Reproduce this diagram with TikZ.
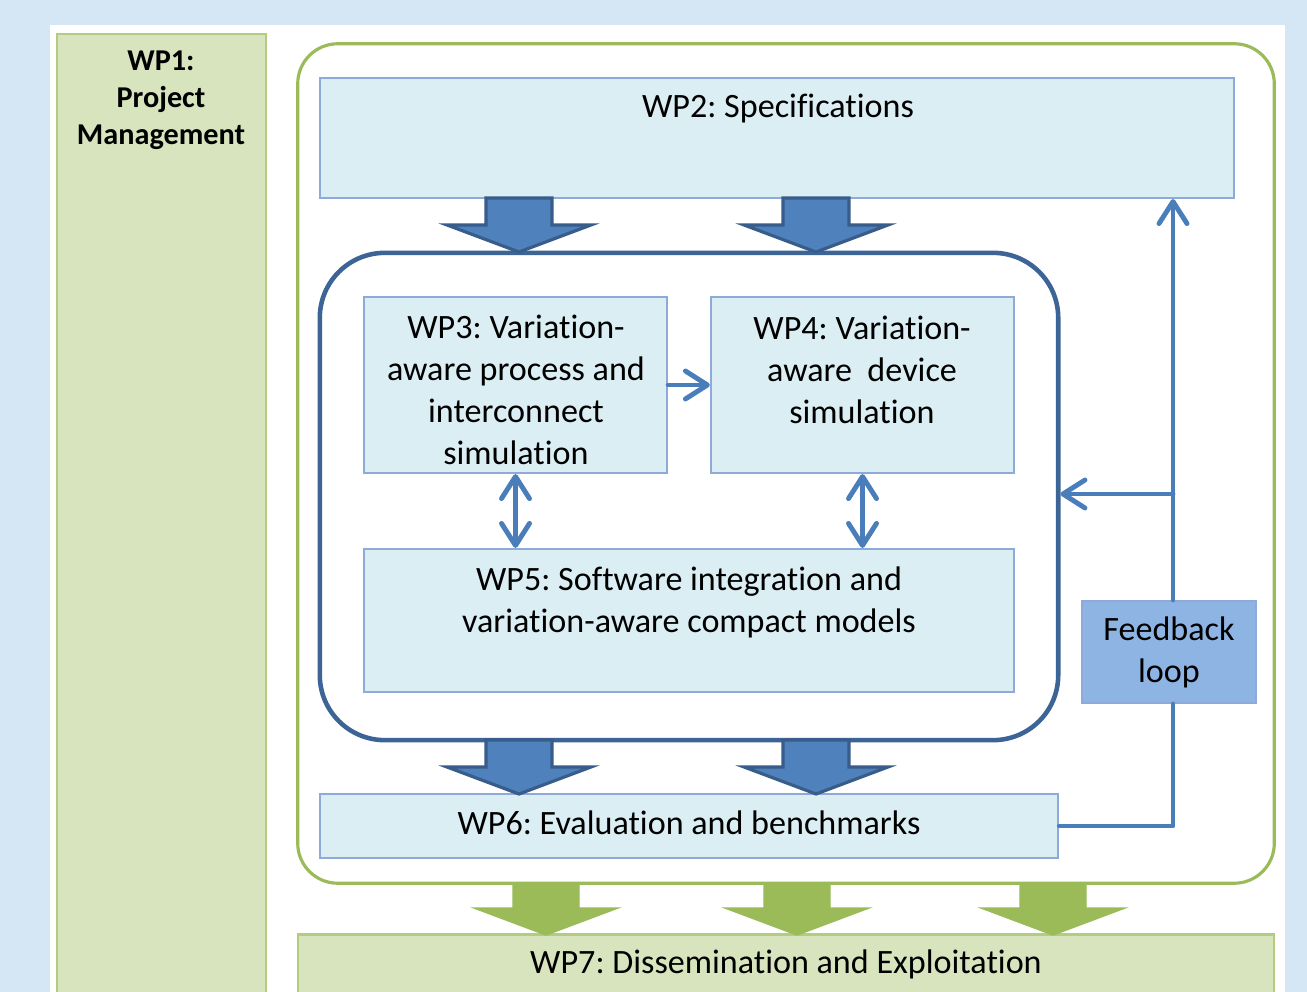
\documentclass[tikz,border=0pt]{standalone}
\usepackage{fontspec}
\setmainfont{Carlito}[Ligatures=NoCommon]
\usetikzlibrary{arrows.meta}
\frenchspacing

\definecolor{pagebg}{HTML}{D5E6F4}
\definecolor{wpgreen}{HTML}{D7E4BD}
\definecolor{wpgreenline}{HTML}{B3CC82}
\definecolor{framegreen}{HTML}{9BBB59}
\definecolor{wpcyan}{HTML}{DBEEF3}
\definecolor{wpcyanline}{HTML}{8EAAD8}
\definecolor{loopblue}{HTML}{8EB4E3}
\definecolor{arrowblue}{HTML}{4F81BD}
\definecolor{arrowline}{HTML}{385D8A}
\definecolor{darkblue}{HTML}{3C6496}
\definecolor{flowblue}{HTML}{4A7EBB}

% block arrow pointing down: style, centre x, top y, tip y
\newcommand{\bigdown}[4]{%
  \filldraw[#1] (#2-33,#3) -- (#2+33,#3) -- (#2+33,#4-27) -- (#2+72,#4-27)
    -- (#2,#4) -- (#2-72,#4-27) -- (#2-33,#4-27) -- cycle;}

\tikzset{
  wpbox/.style={draw=wpcyanline, fill=wpcyan, line width=0.6pt, inner sep=0pt},
  greenbox/.style={draw=wpgreenline, fill=wpgreen, line width=0.6pt, inner sep=0pt},
  wptext/.style={align=center, inner sep=0pt},
  flow/.style={draw=flowblue, line width=1.4pt, line cap=round, line join=round,
    >={Straight Barb[length=2.2mm, width=2.8mm, round]}},
  bluedown/.style={fill=arrowblue, draw=arrowline, line width=0.9pt},
  greendown/.style={fill=framegreen, draw=framegreen, line width=0.4pt}
}

\begin{document}
\begin{tikzpicture}[x=0.01cm, y=-0.01cm, every node/.style={font=\fontsize{9.7}{11.95}\selectfont}]
  % page
  \useasboundingbox (0,0) rectangle (1307,992);
  \fill[pagebg] (0,0) rectangle (1307,992);
  \fill[white] (50,25) rectangle (1285,1010);

  % WP1 column
  \node[greenbox, minimum width=2.09cm, minimum height=9.80cm] (wp1) at (161.5,524) {};
  \node[wptext, font=\fontsize{8.6}{10.5}\selectfont\bfseries] (wp1txt) at (161,100)
    {WP1:\\Project\\Management};

  % outer green frame
  \node[draw=framegreen, line width=0.9pt, rounded corners=0.4cm, inner sep=0pt,
    minimum width=9.76cm, minimum height=8.39cm] (frame) at (786,463.5) {};

  % WP2
  \node[wpbox, minimum width=9.14cm, minimum height=1.20cm] (wp2) at (777,138) {};
  \node[wptext] (wp2txt) at (778,109) {WP2: Specifications};

  % inner rounded box
  \node[draw=darkblue, line width=1.3pt, rounded corners=0.65cm, inner sep=0pt,
    minimum width=7.38cm, minimum height=4.87cm] (inner) at (689,496.5) {};

  % WP3, WP4, WP5
  \node[wpbox, minimum width=3.03cm, minimum height=1.76cm] (wp3) at (515.5,385) {};
  \node[wptext] (wp3txt) at (516,390)
    {WP3: Variation-\\aware process and\\interconnect\\simulation};
  \node[wpbox, minimum width=3.03cm, minimum height=1.76cm] (wp4) at (862.5,385) {};
  \node[wptext] (wp4txt) at (862,370) {WP4: Variation-\\aware\ \ device\\simulation};
  \node[wpbox, minimum width=6.50cm, minimum height=1.43cm] (wp5) at (689,620.5) {};
  \node[wptext] (wp5txt) at (689,602)
    {WP5: Software integration and\\variation-aware compact models};

  % WP6 and feedback
  \node[wpbox, minimum width=7.38cm, minimum height=0.64cm] (wp6) at (689,826) {};
  \node[wptext] (wp6txt) at (689,823) {WP6: Evaluation and benchmarks};
  \node[wpbox, wptext, fill=loopblue, minimum width=1.74cm, minimum height=1.02cm]
    (fb) at (1169,652) {Feedback\\loop};

  % WP7
  \node[greenbox, minimum width=9.76cm, minimum height=0.75cm] (wp7) at (786,972) {};
  \node[wptext] (wp7txt) at (786,964) {WP7: Dissemination and Exploitation};

  % block arrows
  \bigdown{bluedown}{519}{198}{252}
  \bigdown{bluedown}{816}{198}{252}
  \bigdown{bluedown}{519}{740}{794}
  \bigdown{bluedown}{816}{740}{794}
  \bigdown{greendown}{546}{883}{935}
  \bigdown{greendown}{797}{883}{935}
  \bigdown{greendown}{1053}{883}{935}

  % links between work packages
  \draw[flow, ->] (wp3.east) -- (wp4.west);
  \draw[flow, <->] (wp3.south) -- (wp3.south |- wp5.north);
  \draw[flow, <->] (wp4.south) -- (wp4.south |- wp5.north);

  % feedback loop
  \coordinate (fbjoin) at (1173,494);
  \draw[flow] (wp6.east) -| ([xshift=0.04cm]fb.south);
  \draw[flow, ->] ([xshift=0.04cm]fb.north) -- ([xshift=0.04cm]fb.north |- wp2.south);
  \draw[flow, ->] (fbjoin) -- (inner.east |- fbjoin);
\end{tikzpicture}
\end{document}
